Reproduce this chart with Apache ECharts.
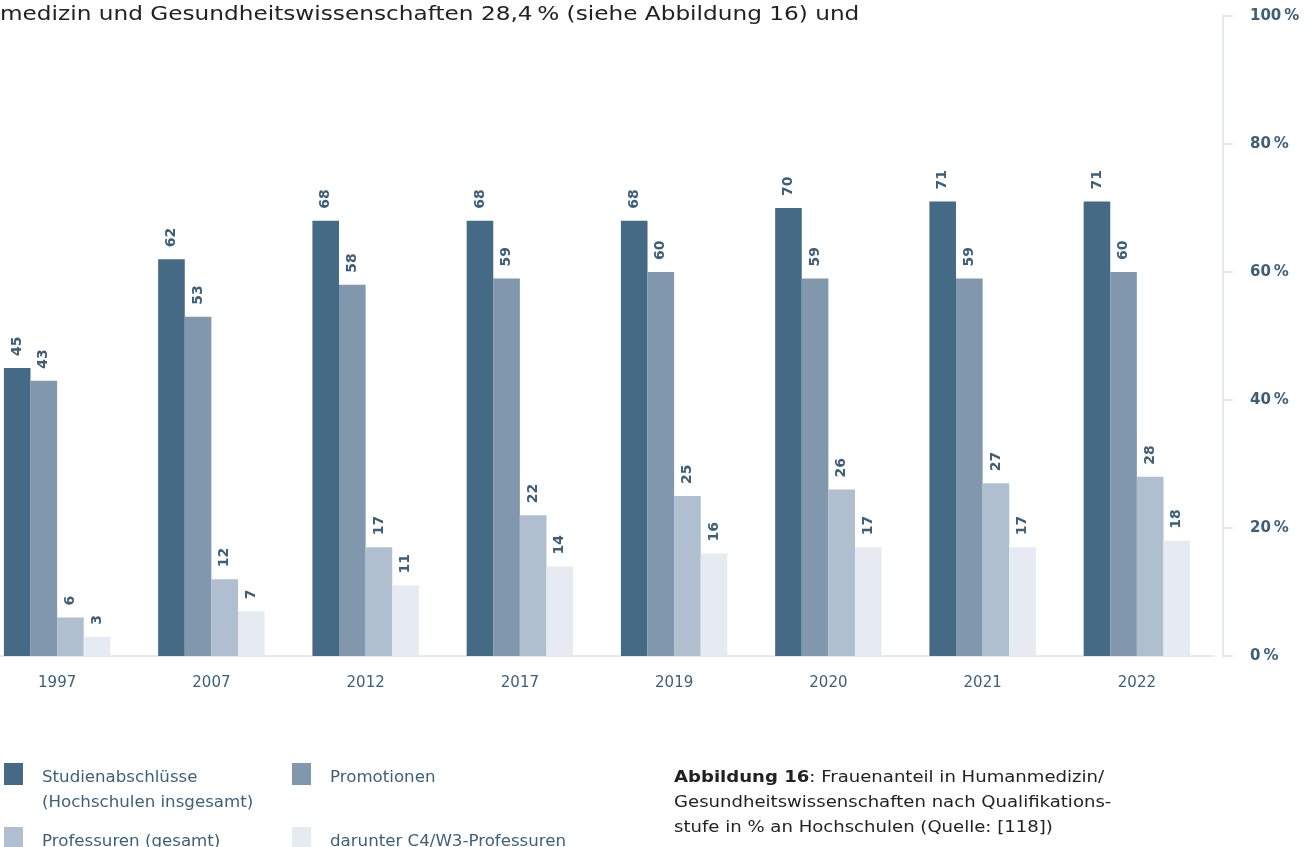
<!DOCTYPE html>
<html>
<head>
<meta charset="utf-8">
<script src="https://cdn.jsdelivr.net/npm/echarts@6/dist/echarts.min.js"></script>
<style>html,body{margin:0;padding:0;background:#fff;overflow:hidden}#c{position:absolute;left:-20px;top:0;width:1332px;height:847px}</style>
</head>
<body>
<div id="c"></div>
<script>
const years = ['1997','2007','2012','2017','2019','2020','2021','2022'];
const seriesNames = ['Studienabschlüsse\n(Hochschulen insgesamt)','Promotionen','Professuren (gesamt)','darunter C4/W3-Professuren'];
const studienabschluesse = [45,62,68,68,68,70,71,71];
const promotionen = [43,53,58,59,60,59,59,60];
const professuren = [6,12,17,22,25,26,27,28];
const c4w3 = [3,7,11,14,16,17,17,18];
const yTicks = [0,20,40,60,80,100];
const colors = ['#456a85','#8197ae','#b0bfcf','#e6eaf2'];
const values = [studienabschluesse, promotionen, professuren, c4w3];
const FONT = '"DejaVu Sans"';
const TXT = '#3d5f7a';
const OX = 20; // container shift

const chart = echarts.init(document.getElementById('c'), null, {renderer:'canvas'});

const legendPos = [[4,763],[292,763],[4,827],[292,827]];
const legendGraphics = [];
seriesNames.forEach((n,i)=>{
  legendGraphics.push({type:'rect', shape:{x:legendPos[i][0]+OX, y:legendPos[i][1], width:19, height:22}, style:{fill:colors[i]}});
  legendGraphics.push({type:'text', x:legendPos[i][0]+38+OX, y:legendPos[i][1]+2, scaleX:1.04,
    style:{text:n, fill:TXT, font:'500 16px '+FONT, lineHeight:25, textVerticalAlign:'top'}});
});

chart.setOption({
  animation:false,
  textStyle:{fontFamily:FONT},
  grid:{left:0, right:98, top:16, bottom:191, containLabel:false},
  xAxis:{
    type:'category', data:years,
    axisLine:{lineStyle:{color:'#dde3ec', width:1.5}},
    axisTick:{show:false},
    axisLabel:{color:TXT, fontSize:15, fontFamily:FONT, margin:20}
  },
  yAxis:{
    type:'value', position:'right', min:0, max:100, interval:20, offset:9,
    axisLine:{show:true, lineStyle:{color:'#dde3ec', width:1.5}},
    axisTick:{show:true, length:10, lineStyle:{color:'#dde3ec', width:1.5}},
    splitLine:{show:false},
    axisLabel:{color:TXT, fontSize:15, fontFamily:FONT, fontWeight:'bold', margin:27, formatter:v=>v+'\u202f%'}
  },
  series: values.map((d,i)=>({
    type:'bar', name:seriesNames[i], data:d,
    barGap:'0%', barCategoryGap:'31%',
    itemStyle:{color:colors[i]},
    label:{show:true, position:'top', rotate:90, align:'left', verticalAlign:'middle', distance:12,
      color:TXT, fontSize:14, fontWeight:'bold', fontFamily:FONT}
  })),
  graphic:[
    {type:'text', x:OX, y:5, scaleX:1.16, style:{text:'medizin und Gesundheitswissenschaften 28,4\u202f% (siehe Abbildung 16) und', fill:'#222', font:'20px '+FONT, textVerticalAlign:'top'}},
    ...legendGraphics,
    {type:'text', x:674+OX, y:765, scaleX:1.13, style:{
      text:'{b|Abbildung 16}: Frauenanteil in Humanmedizin/\nGesundheitswissenschaften nach Qualifikations-\nstufe in % an Hochschulen (Quelle: [118])',
      fill:'#222', font:'16px '+FONT, lineHeight:25, textVerticalAlign:'top',
      rich:{b:{fontWeight:'bold', fontSize:16, fontFamily:FONT, fill:'#222'}}
    }}
  ]
});
</script>
</body>
</html>
